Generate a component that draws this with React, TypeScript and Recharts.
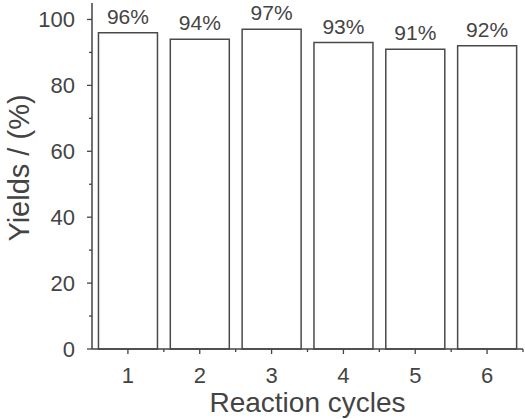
import React from "react";
import { BarChart, Bar, XAxis, YAxis, LabelList, Label } from "recharts";

const cycles = ["1", "2", "3", "4", "5", "6"];
const yields = [96, 94, 97, 93, 91, 92];
const yTicks = [0, 10, 20, 30, 40, 50, 60, 70, 80, 90, 100];

const data = cycles.map((c, i) => ({ cycle: c, yield: yields[i] }));

const W = 525;
const H = 419;
const MARGIN = { top: 3, right: 2, bottom: 0, left: 0 };
const Y_W = 92;
const X_H = 70;
const BAND = (W - Y_W - MARGIN.right - MARGIN.left) / cycles.length;
const TS = 5;
const Y_TM = 12;
const X_TM = 13;
const INK = "#444444";
const FONT = "'Liberation Sans', Arial, Helvetica, sans-serif";

const YTick = (props: any) => {
  const { x, y, payload } = props;
  const axisX = x + TS + Y_TM;
  const major = payload.value % 20 === 0;
  return (
    <g>
      <line x1={axisX - (major ? 5 : 3)} x2={axisX} y1={y} y2={y} stroke={INK} strokeWidth={1.3} />
      {major && (
        <text x={x} y={y} dy="0.36em" textAnchor="end" fontSize={22} fill={INK} fontFamily={FONT}>
          {payload.value}
        </text>
      )}
    </g>
  );
};

const XTick = (props: any) => {
  const { x, y, payload } = props;
  const axisY = y - TS - X_TM;
  return (
    <g>
      <line x1={x} x2={x} y1={axisY} y2={axisY + 5} stroke={INK} strokeWidth={1.3} />
      <line x1={x + BAND / 2} x2={x + BAND / 2} y1={axisY} y2={axisY + 3} stroke={INK} strokeWidth={1.3} />
      <text x={x} y={y} dy="0.71em" textAnchor="middle" fontSize={22} fill={INK} fontFamily={FONT}>
        {payload.value}
      </text>
    </g>
  );
};

const XTitle = (props: any) => {
  const vb = props.viewBox;
  return (
    <text x={vb.x + vb.width / 2} y={vb.y + vb.height - 7} textAnchor="middle" fontSize={28} fill={INK} fontFamily={FONT}>
      Reaction cycles
    </text>
  );
};

const YTitle = (props: any) => {
  const vb = props.viewBox;
  const cx = vb.x + 19;
  const cy = vb.y + vb.height / 2 - 8;
  return (
    <text
      x={cx}
      y={cy}
      dy="0.36em"
      textAnchor="middle"
      fontSize={29}
      fill={INK}
      fontFamily={FONT}
      transform={`rotate(-90, ${cx}, ${cy})`}
    >
      Yields / (%)
    </text>
  );
};

export default function App() {
  return (
    <div style={{ position: "absolute", left: 0, top: 0, width: W, height: H, background: "#fff" }}>
      <BarChart width={W} height={H} data={data} margin={MARGIN} barCategoryGap="9%">
        <XAxis
          dataKey="cycle"
          height={X_H}
          tickSize={TS}
          tickMargin={X_TM}
          tickLine={false}
          tick={<XTick />}
          interval={0}
          axisLine={{ stroke: INK, strokeWidth: 1.5 }}
        >
          <Label content={<XTitle />} />
        </XAxis>
        <YAxis
          width={Y_W}
          domain={[0, 105]}
          ticks={yTicks}
          interval={0}
          tickSize={TS}
          tickMargin={Y_TM}
          tickLine={false}
          tick={<YTick />}
          axisLine={{ stroke: INK, strokeWidth: 1.5 }}
        >
          <Label content={<YTitle />} />
        </YAxis>
        <Bar dataKey="yield" fill="#ffffff" stroke="#4a4a4a" strokeWidth={1.5} isAnimationActive={false}>
          <LabelList
            dataKey="yield"
            position="top"
            offset={9}
            formatter={(v: any) => `${v}%`}
            fontSize={21}
            fill={INK}
            fontFamily={FONT}
          />
        </Bar>
      </BarChart>
    </div>
  );
}
